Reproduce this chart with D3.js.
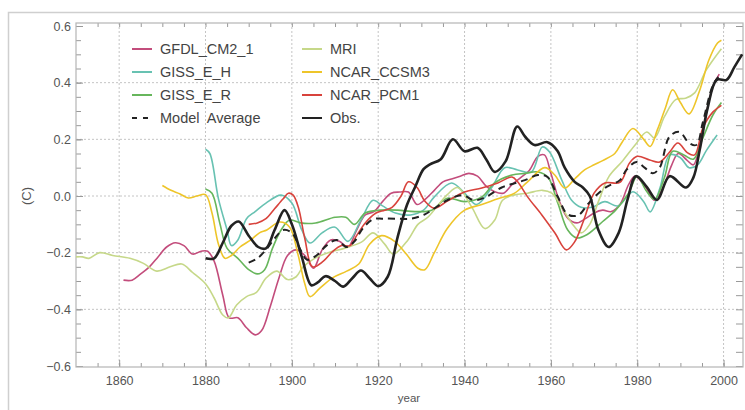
<!DOCTYPE html>
<html>
<head>
<meta charset="utf-8">
<script src="https://cdn.jsdelivr.net/npm/d3@7"></script>
<style>
  body { margin: 0; background: #fff; }
  svg { display: block; font-family: "Liberation Sans", Arial, sans-serif; }
  .tick text { fill: #555; font-size: 12.5px; }
  .tick line { stroke: #999; }
</style>
</head>
<body>
<svg id="canvas"></svg>
<script>
"use strict";

// [year, anomaly in C]
const gfdl = [[1861,-0.297],[1863,-0.297],[1865,-0.275],[1867,-0.25],[1869,-0.215],[1871,-0.18],[1873,-0.165],[1875,-0.175],[1877,-0.205],[1879,-0.195],[1880.5,-0.195],[1882,-0.23],[1884,-0.35],[1885.5,-0.43],[1887.5,-0.43],[1889.5,-0.465],[1891.5,-0.49],[1893,-0.475],[1895,-0.39],[1897,-0.29],[1899,-0.21],[1901,-0.19],[1903,-0.21],[1905,-0.255],[1907,-0.19],[1909,-0.155],[1911,-0.16],[1913,-0.18],[1915,-0.12],[1917,-0.067],[1919,-0.055],[1921,-0.02],[1923,0.01],[1925,0.014],[1927,0.014],[1929,-0.03],[1931,-0.01],[1933,0.02],[1935,0.05],[1937,0.06],[1939,0.07],[1941,0.08],[1943,0.07],[1945,0.035],[1947,0.015],[1949,0.01],[1951,0.04],[1953,0.065],[1955,0.09],[1957,0.14],[1958.5,0.145],[1960,0.08],[1962,-0.02],[1964,-0.08],[1966,-0.095],[1968,-0.08],[1970,-0.06],[1972,-0.05],[1974,-0.055],[1976,-0.03],[1978,0.04],[1979.5,0.07],[1982,0.03],[1984,-0.015],[1986,0.03],[1988,0.11],[1989.5,0.15],[1991.5,0.127],[1993,0.11],[1995,0.22],[1997.5,0.385],[1999,0.43]];
const gissEH = [[1880,0.165],[1881,0.15],[1883,-0.01],[1885,-0.12],[1886,-0.175],[1887.5,-0.155],[1889.5,-0.08],[1891.5,-0.055],[1894,-0.025],[1897.5,0.003],[1900,-0.025],[1902.3,-0.12],[1904.2,-0.166],[1907,-0.13],[1910,-0.11],[1913,-0.16],[1916,-0.085],[1918.8,-0.015],[1921,-0.035],[1924,-0.06],[1927.5,-0.067],[1930.5,-0.05],[1933,-0.003],[1937,0.046],[1940,0.01],[1942.8,-0.03],[1946.3,0.03],[1949.3,0.1],[1952.3,0.092],[1955.5,0.085],[1958,0.173],[1959.7,0.155],[1962.5,0.057],[1964.8,-0.015],[1967,-0.04],[1969.5,-0.04],[1972.5,-0.02],[1975.5,-0.035],[1979,0.015],[1981.5,-0.02],[1983,-0.056],[1985.3,0.03],[1987.5,0.145],[1990,0.135],[1992,0.1],[1994,0.11],[1996,0.16],[1998.5,0.215]];
const gissER = [[1880,0.025],[1881.5,0.01],[1883.3,-0.095],[1885,-0.185],[1887.5,-0.22],[1890,-0.26],[1892,-0.275],[1893.7,-0.26],[1895.5,-0.185],[1897.5,-0.12],[1899.5,-0.085],[1902,-0.095],[1905.5,-0.095],[1910,-0.075],[1912.5,-0.075],[1914.5,-0.1],[1917,-0.06],[1920.5,-0.05],[1924.5,-0.05],[1928.5,-0.055],[1932.4,-0.05],[1936,-0.008],[1940,-0.02],[1944,-0.003],[1947,0.046],[1951,0.074],[1954,0.08],[1957,0.085],[1959.3,0.067],[1961.6,-0.025],[1963.9,-0.12],[1966,-0.148],[1968.5,-0.135],[1972,-0.09],[1975,-0.05],[1978,0.01],[1980,0.07],[1982,0.02],[1984,-0.012],[1986.3,0.065],[1988.2,0.158],[1990.8,0.145],[1993,0.13],[1995.2,0.205],[1997.5,0.285],[1999.5,0.33]];
const mri = [[1850,-0.215],[1851.5,-0.215],[1853,-0.22],[1855.5,-0.2],[1858.5,-0.21],[1862.5,-0.22],[1865.5,-0.237],[1868.7,-0.265],[1871.8,-0.25],[1874.5,-0.24],[1877,-0.27],[1880,-0.31],[1882,-0.36],[1884,-0.42],[1885.3,-0.43],[1887.2,-0.385],[1889.5,-0.355],[1891.8,-0.34],[1894,-0.29],[1896.5,-0.265],[1899,-0.295],[1901,-0.285],[1902.6,-0.25],[1905.3,-0.22],[1908.4,-0.2],[1912.3,-0.184],[1916.2,-0.162],[1918.8,-0.13],[1921.5,-0.17],[1923.5,-0.205],[1926.9,-0.155],[1929.2,-0.1],[1931.5,-0.075],[1936,0.005],[1938.4,0.03],[1941.7,-0.04],[1944.7,-0.115],[1947,-0.085],[1948.8,-0.015],[1951.6,0.004],[1954.6,0.01],[1958,0.02],[1960.2,0.01],[1962.5,-0.04],[1964.8,-0.095],[1967,-0.13],[1969,-0.1],[1971,-0.02],[1973.5,0.07],[1976.5,0.122],[1979.5,0.18],[1982.2,0.226],[1984,0.205],[1986.3,0.28],[1988.9,0.34],[1991.2,0.345],[1993.3,0.364],[1996,0.445],[1999.5,0.52]];
const ccsm3 = [[1870,0.037],[1872,0.02],[1874,0.008],[1876,-0.007],[1878,0.0],[1880,0.005],[1881.5,-0.06],[1883,-0.17],[1884.5,-0.22],[1886,-0.21],[1888,-0.18],[1890.5,-0.155],[1892.5,-0.13],[1894.2,-0.12],[1897.2,-0.092],[1899.5,-0.11],[1901.4,-0.205],[1903,-0.31],[1904.2,-0.355],[1906.5,-0.325],[1909.5,-0.288],[1912.7,-0.265],[1915.5,-0.24],[1918,-0.17],[1920.8,-0.14],[1923.8,-0.16],[1926.5,-0.205],[1929.2,-0.255],[1930.8,-0.26],[1933,-0.2],[1936,-0.115],[1940,-0.05],[1944,-0.03],[1947.7,-0.01],[1951.6,0.01],[1954.6,0.05],[1958.6,0.1],[1960.9,0.074],[1963.2,0.028],[1965.5,0.06],[1967.8,0.092],[1970,0.11],[1972,0.125],[1974.8,0.15],[1976.5,0.19],[1979,0.238],[1981.5,0.2],[1983,0.175],[1984.7,0.235],[1986.5,0.31],[1988.2,0.375],[1990,0.33],[1992,0.29],[1994.4,0.37],[1996.6,0.48],[1998.6,0.54],[1999.5,0.55]];
const pcm1 = [[1890,-0.1],[1892,-0.095],[1894,-0.08],[1896,-0.045],[1898,-0.01],[1899.2,0.01],[1900.3,0.003],[1901.5,-0.04],[1903,-0.15],[1904.8,-0.25],[1907.3,-0.23],[1909.5,-0.195],[1911.5,-0.175],[1913.5,-0.175],[1915,-0.14],[1917,-0.095],[1919.5,-0.06],[1921.5,-0.05],[1923.2,-0.04],[1925.3,0.0],[1927,0.05],[1929,0.03],[1930.8,-0.018],[1933,-0.043],[1936,-0.018],[1940,0.014],[1944,0.028],[1947.7,0.046],[1951,0.067],[1952.3,0.05],[1954.6,-0.003],[1957.9,-0.067],[1960.9,-0.13],[1963.6,-0.19],[1965.5,-0.162],[1967.5,-0.09],[1970,0.01],[1972.5,0.046],[1976,0.048],[1978.2,0.116],[1980,0.14],[1982.9,0.127],[1985.2,0.12],[1987.5,0.155],[1989.4,0.187],[1991.7,0.152],[1993.3,0.145],[1995.2,0.24],[1997.5,0.296],[1999.5,0.32]];
const modelAvg = [[1890,-0.235],[1892,-0.22],[1894,-0.19],[1896,-0.15],[1898,-0.12],[1900,-0.13],[1902,-0.19],[1903.5,-0.225],[1905.7,-0.21],[1908,-0.175],[1910.4,-0.155],[1912.7,-0.18],[1914.5,-0.16],[1916.4,-0.115],[1918.8,-0.082],[1921,-0.08],[1924,-0.08],[1927.7,-0.08],[1930.8,-0.065],[1932.4,-0.05],[1936,-0.015],[1939.4,0.003],[1942.4,-0.015],[1945,-0.003],[1948.6,0.03],[1951.6,0.045],[1954,0.056],[1957,0.074],[1959.2,0.067],[1961.6,-0.003],[1963.9,-0.065],[1966.3,-0.068],[1968.5,-0.03],[1970,-0.005],[1972.9,0.032],[1976,0.056],[1977.5,0.092],[1979.8,0.12],[1981.7,0.1],[1983.6,0.08],[1985.2,0.1],[1987.5,0.21],[1989.8,0.226],[1992,0.187],[1993.7,0.18],[1995.2,0.26],[1997.5,0.39],[1998.8,0.42]];
const obs = [[1880,-0.22],[1882,-0.22],[1884,-0.165],[1886,-0.105],[1887.7,-0.09],[1890,-0.14],[1892.2,-0.18],[1894,-0.185],[1896,-0.12],[1898.3,-0.05],[1900,-0.1],[1902.3,-0.215],[1904.5,-0.315],[1906,-0.305],[1907.8,-0.283],[1910,-0.3],[1911.9,-0.32],[1914,-0.29],[1916,-0.263],[1918,-0.29],[1920,-0.318],[1922.2,-0.285],[1924.5,-0.145],[1926.7,-0.03],[1928.5,0.03],[1930.5,0.095],[1932,0.112],[1934.5,0.13],[1937.3,0.2],[1940,0.158],[1943,0.17],[1945,0.13],[1947,0.085],[1949.5,0.122],[1952.2,0.245],[1954,0.21],[1956.2,0.18],[1959.2,0.19],[1961.5,0.16],[1963.2,0.1],[1965.5,0.05],[1967.4,0.03],[1969,0.0],[1971,-0.12],[1973.4,-0.18],[1975.7,-0.13],[1977.8,-0.01],[1979.7,0.07],[1982.2,0.032],[1984.6,-0.014],[1987.5,0.07],[1991.3,0.03],[1993,0.065],[1994.5,0.165],[1996.3,0.31],[1998.4,0.41],[2000.7,0.41],[2002.5,0.455],[2004.3,0.5]];

const xTicks = [1860, 1880, 1900, 1920, 1940, 1960, 1980, 2000];
const yTicks = [-0.6, -0.4, -0.2, 0.0, 0.2, 0.4, 0.6];

const series = [
    {name: 'GFDL_CM2_1', data: gfdl, color: '#c34d7c', col: 0, row: 0},
    {name: 'GISS_E_H', data: gissEH, color: '#68c2b2', col: 0, row: 1},
    {name: 'GISS_E_R', data: gissER, color: '#67b65c', col: 0, row: 2},
    {name: 'MRI', data: mri, color: '#c6d889', col: 1, row: 0},
    {name: 'NCAR_CCSM3', data: ccsm3, color: '#eec52a', col: 1, row: 1},
    {name: 'NCAR_PCM1', data: pcm1, color: '#d8433c', col: 1, row: 2},
    {name: 'Model  Average', data: modelAvg, color: '#222', col: 0, row: 3, dash: '7,5', width: 2},
    {name: 'Obs.', data: obs, color: '#222', col: 1, row: 3, width: 2.6}
];

let width = 745;
let height = 410;
let padLeft = 76, padRight = 743, padTop = 23, padBottom = 367;

let canvas = d3.select('#canvas')
    .attr('width', width)
    .attr('height', height);

let xScale = d3.scaleLinear()
    .domain([1850, 2004.5])
    .range([padLeft, padRight]);

let yScale = d3.scaleLinear()
    .domain([-0.6, 0.6])
    .range([padBottom - 1, 26]);

// outer frame
canvas.append('path')
    .attr('d', 'M8.5,' + height + ' V12.5 H' + width)
    .attr('fill', 'none')
    .attr('stroke', '#cfcfcf')
    .attr('stroke-width', 1.5);

// grid
canvas.append('g').selectAll('line')
    .data(xTicks)
    .enter()
    .append('line')
    .attr('x1', d => xScale(d)).attr('x2', d => xScale(d))
    .attr('y1', padTop).attr('y2', padBottom)
    .attr('stroke', '#c4c4c4')
    .attr('stroke-dasharray', '2,2');

canvas.append('g').selectAll('line')
    .data(yTicks.filter(d => Math.abs(d) < 0.5))
    .enter()
    .append('line')
    .attr('x1', padLeft).attr('x2', padRight)
    .attr('y1', d => yScale(d)).attr('y2', d => yScale(d))
    .attr('stroke', '#c4c4c4')
    .attr('stroke-dasharray', '2,2');

// axes, ticks pointing inward
const fmtY = d3.format('.1f');
const minorX = d3.range(1855, 2005, 5);
const minorY = d3.range(-0.6, 0.61, 0.05);

canvas.append('g')
    .attr('transform', 'translate(0,' + padBottom + ')')
    .call(d3.axisBottom(xScale).tickValues(xTicks).tickSize(-7).tickPadding(9).tickFormat(d3.format('d')))
    .call(g => g.select('.domain').remove());
canvas.append('g')
    .attr('transform', 'translate(0,' + padBottom + ')')
    .call(d3.axisBottom(xScale).tickValues(minorX).tickSize(-4).tickFormat(''))
    .call(g => g.select('.domain').remove());
canvas.append('g')
    .attr('transform', 'translate(0,' + padTop + ')')
    .call(d3.axisTop(xScale).tickValues(minorX).tickSize(-4).tickFormat(''))
    .call(g => g.select('.domain').remove());

canvas.append('g')
    .attr('transform', 'translate(' + padLeft + ',0)')
    .call(d3.axisLeft(yScale).tickValues(yTicks).tickSize(-7).tickPadding(5).tickFormat(fmtY))
    .call(g => g.select('.domain').remove());
canvas.append('g')
    .attr('transform', 'translate(' + padLeft + ',0)')
    .call(d3.axisLeft(yScale).tickValues(minorY).tickSize(-5).tickFormat(''))
    .call(g => g.select('.domain').remove());
canvas.append('g')
    .attr('transform', 'translate(' + padRight + ',0)')
    .call(d3.axisRight(yScale).tickValues(minorY).tickSize(-7).tickFormat(''))
    .call(g => g.select('.domain').remove());

canvas.append('rect')
    .attr('x', padLeft).attr('y', padTop)
    .attr('width', padRight - padLeft).attr('height', padBottom - padTop)
    .attr('fill', 'none')
    .attr('stroke', '#b5b5b5')
    .attr('stroke-width', 1.2);

// series
const line = d3.line()
    .x(d => xScale(d[0]))
    .y(d => yScale(d[1]))
    .curve(d3.curveCatmullRom.alpha(0.5));

canvas.append('g').selectAll('path')
    .data(series)
    .enter()
    .append('path')
    .attr('d', d => line(d.data))
    .attr('fill', 'none')
    .attr('stroke', d => d.color)
    .attr('stroke-width', d => d.width || 1.6)
    .attr('stroke-dasharray', d => d.dash || null)
    .attr('stroke-linejoin', 'round');

// legend
const legend = canvas.append('g').selectAll('g')
    .data(series)
    .enter()
    .append('g')
    .attr('transform', d => 'translate(' + (d.col ? 302 : 132) + ',' + (49 + d.row * 23) + ')');

legend.append('line')
    .attr('x1', 0).attr('x2', d => d.dash ? 22 : 20)
    .attr('stroke', d => d.color)
    .attr('stroke-width', 2)
    .attr('stroke-dasharray', d => d.dash ? '5,6' : null);

legend.append('text')
    .attr('x', 28)
    .attr('dy', '0.35em')
    .attr('fill', '#444')
    .style('font-size', '14.5px')
    .style('white-space', 'pre')
    .text(d => d.name);

// axis titles
canvas.append('text')
    .attr('transform', 'translate(31,196) rotate(-90)')
    .attr('text-anchor', 'middle')
    .attr('fill', '#555')
    .style('font-size', '13px')
    .text('(C)');

canvas.append('text')
    .attr('x', 409).attr('y', 402)
    .attr('text-anchor', 'middle')
    .attr('fill', '#555')
    .style('font-size', '11.5px')
    .text('year');
</script>
</body>
</html>
